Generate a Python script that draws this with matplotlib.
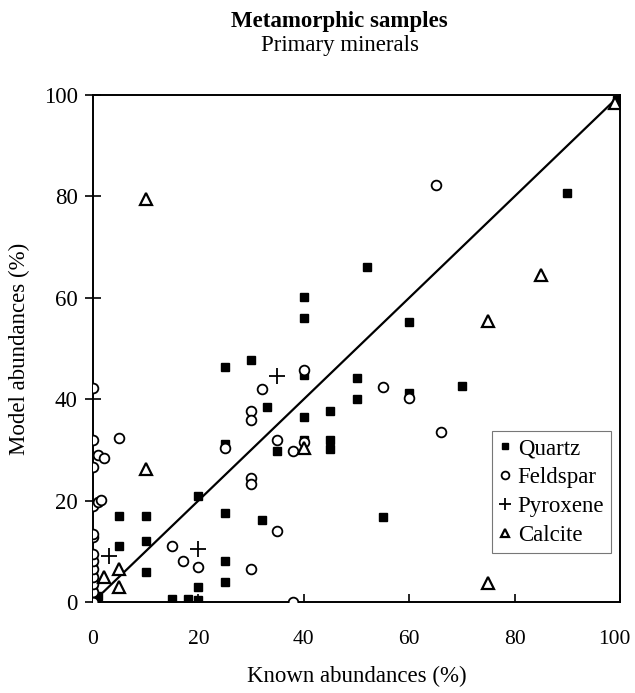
import numpy as np
import matplotlib
matplotlib.use("Agg")
from matplotlib import pyplot as plt
from matplotlib import transforms

plt.rcParams['font.family'] = ['Liberation Serif', 'DejaVu Serif']

# known vs. model abundances (%) for each mineral
quartz_x = [0, 0, 0, 0, 0, 0, 1, 5, 10, 5, 10, 10, 20, 25, 25, 25, 20, 15, 18, 20,
            25, 25, 30, 33, 32, 35, 40, 40, 40, 40, 40, 45, 45, 45, 50, 50, 52, 55,
            60, 60, 70, 90, 99.5]
quartz_y = [1, 2.5, 4, 5.5, 7, 8.5, 1.2, 17, 17, 11, 12, 6, 21, 17.5, 8, 4, 3, 0.5, 0.5, 0.3,
            46.3, 31.2, 47.7, 38.5, 16.2, 29.7, 44.8, 36.4, 32, 60.1, 56, 37.7, 32, 30.1, 44.1, 40, 66, 16.8,
            55.3, 41.3, 42.6, 80.6, 99]

feldspar_x = [0, 0, 0, 0, 0, 0, 0, 0, 0, 0, 1, 1.5, 0, 0, 0, 1, 2, 5, 15, 17, 20,
              25, 30, 30, 30, 30, 30, 32, 35, 35, 38, 38, 40, 40, 55, 60, 65, 66]
feldspar_y = [0, 2, 3.5, 5, 6.5, 8, 9.5, 12.8, 13.4, 19, 19.8, 20.2, 26.7, 32, 42.3, 29, 28.5, 32.3, 11, 8, 7,
              30.3, 37.7, 35.8, 24.5, 23.3, 6.6, 42, 32, 14, 29.8, 0, 45.8, 31.5, 42.5, 40.2, 82.2, 33.6]

pyroxene_x = [3, 20, 35]
pyroxene_y = [9, 10.5, 44.5]

calcite_x = [2, 5, 5, 10, 10, 40, 75, 75, 85, 99]
calcite_y = [5, 6.5, 3, 26.2, 79.5, 30.3, 55.4, 3.8, 64.5, 98.5]

FS = 16.5

fig = plt.figure(figsize=(6.35, 6.93), dpi=100, facecolor='white')
ax = fig.add_axes([93 / 635, 1 - 602 / 693, 527 / 635, 507 / 693])

# 1:1 reference line
ax.plot([2, 99], [2, 99], color='black', linewidth=1.6, zorder=1)

ax.plot(quartz_x, quartz_y, linestyle='none', marker='s', ms=6, color='black',
        label='Quartz', zorder=3)
ax.plot(feldspar_x, feldspar_y, linestyle='none', marker='o', ms=7, mfc='white',
        mec='black', mew=1.3, label='Feldspar', zorder=3)
ax.plot(pyroxene_x, pyroxene_y, linestyle='none', marker='+', ms=11, mew=1.3,
        color='black', label='Pyroxene', zorder=3)
ax.plot(calcite_x, calcite_y, linestyle='none', marker='^', ms=8, mfc='white',
        mec='black', mew=1.6, label='Calcite', zorder=3)

ax.set_xlim(0, 100)
ax.set_ylim(0, 100)
ax.set_xticks(np.arange(0, 101, 20))
ax.set_yticks(np.arange(0, 101, 20))
ax.tick_params(axis='x', direction='in', length=6, width=1.2, labelsize=FS - 1, pad=20)
ax.tick_params(axis='y', direction='inout', length=12, width=1.2, labelsize=FS, pad=5)
for sp in ax.spines.values():
    sp.set_linewidth(1.4)
    sp.set_zorder(0)

# keep the last x label inside the figure edge
last = ax.get_xticklabels()[-1]
last.set_transform(last.get_transform() +
                   transforms.ScaledTranslation(-4 / 72, 0, fig.dpi_scale_trans))

ax.set_xlabel('Known abundances (%)', fontsize=FS, labelpad=12)
ax.set_ylabel('Model abundances (%)', fontsize=FS, labelpad=10)

fig.text(0.5 + 0.035, 1 - 22 / 693, 'Metamorphic samples', ha='center', va='center',
         fontsize=FS, fontweight='bold')
fig.text(0.5 + 0.035, 1 - 45 / 693, 'Primary minerals', ha='center', va='center',
         fontsize=FS)

leg = ax.legend(loc='lower right', bbox_to_anchor=(0.983, 0.096), borderaxespad=0,
                fontsize=FS, frameon=True, fancybox=False, handlelength=0.5,
                handletextpad=0.3, labelspacing=0.35, borderpad=0.3, markerscale=0.8)
leg.get_frame().set_edgecolor('#555555')
leg.get_frame().set_linewidth(0.8)

fig.savefig('out.png', dpi=100, facecolor='white')
